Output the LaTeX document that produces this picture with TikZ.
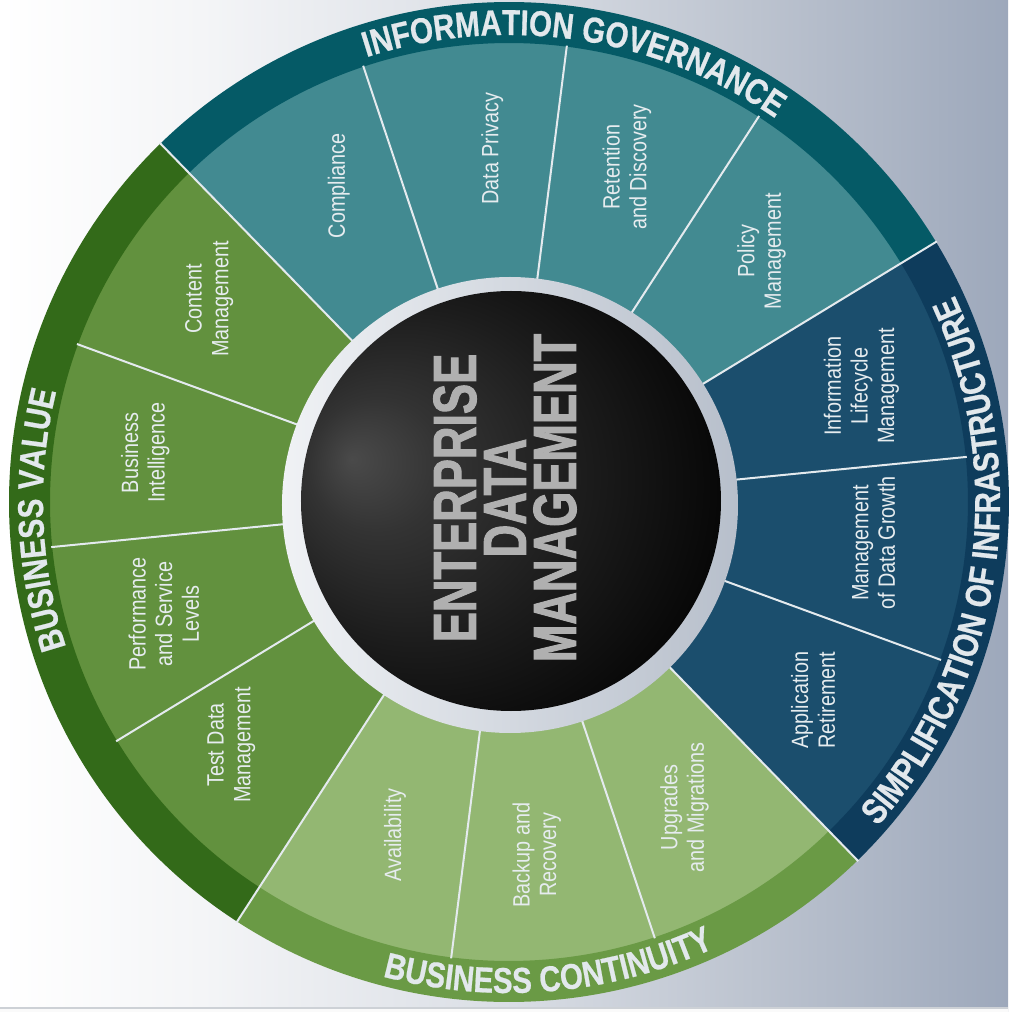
\documentclass[tikz,border=0pt]{standalone}
\usepackage{fontspec}
\setmainfont{Liberation Sans}
\newfontfamily\labelfont[FakeStretch=0.84]{Liberation Sans}
\newfontfamily\bandfont[FakeStretch=0.82,FakeBold=0.6]{Liberation Sans Bold}
\newfontfamily\centerfont[FakeStretch=0.74,FakeBold=1.5]{Liberation Sans Bold}
\usetikzlibrary{decorations.text}

\definecolor{bgA}{HTML}{F4F5F7}
\definecolor{bgB}{HTML}{DADEE5}
\definecolor{bgC}{HTML}{BCC3CF}
\definecolor{bgD}{HTML}{9DA8BB}
\definecolor{igseg}{HTML}{428A91}
\definecolor{igband}{HTML}{055A66}
\definecolor{siseg}{HTML}{1B4E6D}
\definecolor{siband}{HTML}{0E3C5C}
\definecolor{bcseg}{HTML}{93B772}
\definecolor{bcband}{HTML}{6A9A45}
\definecolor{bvseg}{HTML}{62913E}
\definecolor{bvband}{HTML}{336A19}
\definecolor{divline}{HTML}{E4EAEE}
\definecolor{labeltext}{HTML}{E6ECEF}
\definecolor{bandtext}{HTML}{E2E8EC}
\definecolor{centretext}{HTML}{B0B0B0}
\definecolor{ringL}{HTML}{F0F2F5}
\definecolor{ringR}{HTML}{B7BFCB}
\definecolor{sphA}{HTML}{4A4A4A}
\definecolor{sphB}{HTML}{333333}
\definecolor{sphC}{HTML}{1C1C1C}
\definecolor{sphD}{HTML}{060606}
\definecolor{bottomline}{HTML}{CDD1D6}

\pgfdeclarehorizontalshading{bgshade}{100bp}{color(0bp)=(white); color(25bp)=(white); color(35bp)=(bgA); color(50bp)=(bgB); color(62.5bp)=(bgC); color(75bp)=(bgD); color(100bp)=(bgD)}
\pgfdeclareradialshading{sphere}{\pgfpoint{-19bp}{5bp}}{color(0bp)=(sphA); color(8bp)=(sphB); color(20bp)=(sphC); color(33bp)=(sphD); color(50bp)=(black)}

\tikzset{
  seglabel/.style={text=labeltext, rotate=90, align=center, inner sep=0pt,
    font=\labelfont\fontsize{11.8}{13.3}\selectfont},
  centrelabel/.style={text=centretext, rotate=90, align=center, inner sep=0pt,
    font=\centerfont\fontsize{30.5}{25}\selectfont},
  divider/.style={draw=divline, line width=1pt},
  bandtxt/.style={decorate, decoration={text along path, text align=center, text color=bandtext, text={|\bandfont\fontsize{18}{18}\selectfont|#1}}}
}

\begin{document}
\begin{tikzpicture}[x=0.5pt,y=0.5pt]
\shade[shading=bgshade] (-509,-510) rectangle (499,502);
\useasboundingbox (-509,-510) rectangle (499,502);
\fill[white!96!gray] (-509,-510) rectangle (499,-506);
\draw[draw=bottomline, line width=1pt] (-509,-506) -- (499,-506);

% segments
\foreach \k/\col in {0/igseg,1/igseg,2/igseg,3/igseg,4/siseg,5/siseg,6/siseg,7/bcseg,8/bcseg,9/bcseg,10/bvseg,11/bvseg,12/bvseg,13/bvseg}{
  \pgfmathsetmacro\a{134.2-\k*25.7143}
  \pgfmathsetmacro\b{\a-25.7143}
  \fill[\col] (\a:200) arc[start angle=\a, end angle=\b, radius=200] -- (\b:460) arc[start angle=\b, end angle=\a, radius=460] -- cycle;
}
% bands
\foreach \s/\e/\col in {134.2/31.34/igband, 31.34/-45.79/siband, -45.79/-122.94/bcband, -122.94/-225.8/bvband}{
  \fill[\col] (\s:459) arc[start angle=\s, end angle=\e, radius=459] -- (\e:500) arc[start angle=\e, end angle=\s, radius=500] -- cycle;
}
% dividers
\foreach \k in {1,2,3,5,6,8,9,11,12,13}{
  \pgfmathsetmacro\a{134.2-\k*25.7143}
  \draw[divider] (\a:215) -- (\a:460);
}
\foreach \k in {0,4,7,10}{
  \pgfmathsetmacro\a{134.2-\k*25.7143}
  \draw[divider] (\a:215) -- (\a:501);
}

% centre ring and sphere
\shade[left color=ringL, right color=ringR] (1,-3) circle[radius=228];
\shade[shading=sphere] (2,1) circle[radius=210];
\node[centrelabel] (edm) at (-4,4) {ENTERPRISE\\DATA\\MANAGEMENT};

% band texts
\path[bandtxt={INFORMATION GOVERNANCE}] (134:467) arc[start angle=134, end angle=29, radius=467];
\path[bandtxt={BUSINESS VALUE}] (230:466) arc[start angle=230, end angle=134.4, radius=466];
\path[bandtxt={SIMPLIFICATION OF INFRASTRUCTURE}] (-45:491) arc[start angle=-45, end angle=28.5, radius=491];
\path[bandtxt={BUSINESS CONTINUITY}] (-122:491) arc[start angle=-122, end angle=-48.2, radius=491];

% segment labels
\node[seglabel] (compliance) at (118.3:359) {Compliance};
\node[seglabel] (dataprivacy) at (92.7:354) {Data Privacy};
\node[seglabel] (retention) at (70.6:355) {Retention\\and Discovery};
\node[seglabel] (policy) at (44.8:356) {Policy\\Management};
\node[seglabel] (ilm) at (18.2:371) {Information\\Lifecycle\\Management};
\node[seglabel] (datagrowth) at (-6.4:367) {Management\\of Data Growth};
\node[seglabel] (appret) at (-33.1:363) {Application\\Retirement};
\node[seglabel] (upgrades) at (-60.1:352) {Upgrades\\and Migrations};
\node[seglabel] (backup) at (-85.5:354) {Backup and\\Recovery};
\node[seglabel] (availability) at (-108.9:352) {Availability};
\node[seglabel] (testdata) at (-138.8:369) {Test Data\\Management};
\node[seglabel] (performance) at (198:363) {Performance\\and Service\\Levels};
\node[seglabel] (bi) at (172.3:367) {Business\\Intelligence};
\node[seglabel] (content) at (145.9:362) {Content\\Management};
\end{tikzpicture}
\end{document}
